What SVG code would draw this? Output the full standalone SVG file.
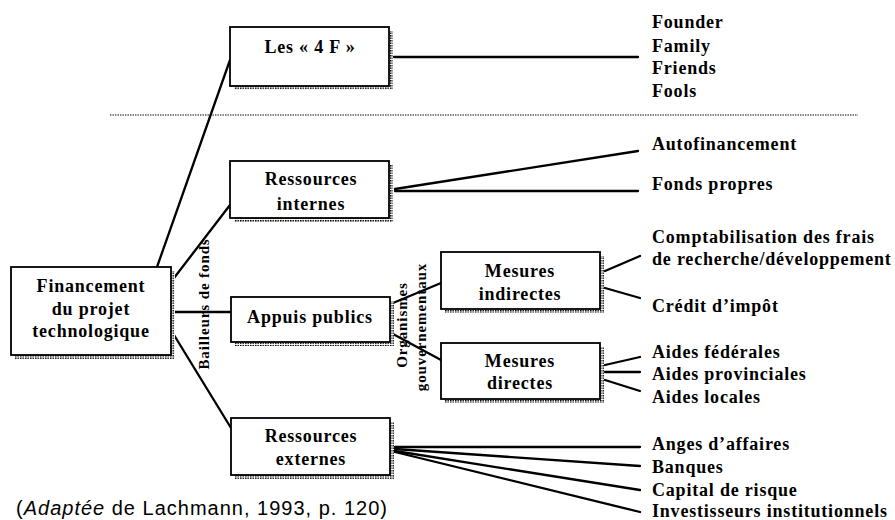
<svg xmlns="http://www.w3.org/2000/svg" width="895" height="520" viewBox="0 0 895 520">
  <defs>
    <!-- stippled drop shadow used behind every box -->
    <pattern id="stipple" width="2.5" height="2.5" patternUnits="userSpaceOnUse">
      <rect width="2.5" height="2.5" fill="#fff"/>
      <rect width="1.5" height="1.5" fill="#000"/>
    </pattern>
  </defs>
  <style>
    .box { fill: #fff; stroke: #000; stroke-width: 1.8; }
    .shadow { fill: url(#stipple); }
    .lbl { font-family: "Liberation Serif", "Times New Roman", serif; font-weight: bold; font-size: 18px; letter-spacing: 0.8px; fill: #000; }
    .mid { text-anchor: middle; }
    .vert { font-family: "Liberation Serif", "Times New Roman", serif; font-weight: bold; font-size: 15px; letter-spacing: 0.9px; fill: #000; text-anchor: middle; }
    .link { stroke: #000; stroke-width: 2.3; fill: none; stroke-linecap: round; }
    .sep { stroke: #000; stroke-width: 1.2; stroke-dasharray: 1.4 1.1; fill: none; }
    .cap { font-family: "Liberation Sans", Arial, sans-serif; font-size: 20px; letter-spacing: 1px; fill: #000; }
  </style>

  <rect width="895" height="520" fill="#fff"/>

  <!-- separator between the "4 F" and the other funding sources -->
  <line class="sep" x1="110" y1="115" x2="858" y2="115"/>

  <!-- connectors -->
  <g id="connectors">
    <line class="link" x1="157" y1="267" x2="230" y2="60"/>
    <line class="link" x1="174" y1="278" x2="230" y2="205"/>
    <line class="link" x1="174" y1="312" x2="231" y2="312"/>
    <line class="link" x1="174" y1="335" x2="231" y2="428"/>

    <line class="link" x1="394" y1="57" x2="638" y2="57"/>

    <line class="link" x1="395" y1="189" x2="638" y2="151"/>
    <line class="link" x1="395" y1="191" x2="638" y2="191"/>

    <line class="link" x1="393" y1="303" x2="441" y2="283"/>
    <line class="link" x1="393" y1="334" x2="441" y2="360"/>

    <line class="link" x1="605" y1="271" x2="640" y2="256"/>
    <line class="link" x1="605" y1="288" x2="640" y2="298"/>

    <line class="link" x1="605" y1="365" x2="640" y2="357"/>
    <line class="link" x1="605" y1="372" x2="640" y2="372"/>
    <line class="link" x1="605" y1="380" x2="640" y2="391"/>

    <line class="link" x1="395" y1="447" x2="640" y2="447"/>
    <line class="link" x1="395" y1="449" x2="640" y2="466"/>
    <line class="link" x1="395" y1="451" x2="640" y2="490"/>
    <line class="link" x1="395" y1="452" x2="640" y2="512"/>
  </g>

  <!-- nodes -->
  <g id="financement">
    <rect class="shadow" x="15" y="271" width="160" height="88"/>
    <rect class="box" x="11" y="267" width="160" height="88"/>
    <text class="lbl mid" x="91" y="292">Financement</text>
    <text class="lbl mid" x="91" y="315">du projet</text>
    <text class="lbl mid" x="91" y="337">technologique</text>
  </g>

  <g id="quatre-f">
    <rect class="shadow" x="234" y="31" width="159" height="59"/>
    <rect class="box" x="230" y="27" width="159" height="59"/>
    <text class="lbl mid" x="310" y="53">Les « 4 F »</text>
  </g>

  <g id="ressources-internes">
    <rect class="shadow" x="234" y="165" width="159" height="57"/>
    <rect class="box" x="230" y="161" width="159" height="57"/>
    <text class="lbl mid" x="311" y="185">Ressources</text>
    <text class="lbl mid" x="311" y="210">internes</text>
  </g>

  <g id="appuis-publics">
    <rect class="shadow" x="235" y="301" width="159" height="45"/>
    <rect class="box" x="231" y="297" width="159" height="45"/>
    <text class="lbl mid" x="310" y="323">Appuis publics</text>
  </g>

  <g id="ressources-externes">
    <rect class="shadow" x="235" y="422" width="159" height="57"/>
    <rect class="box" x="231" y="418" width="159" height="57"/>
    <text class="lbl mid" x="311" y="442">Ressources</text>
    <text class="lbl mid" x="311" y="465">externes</text>
  </g>

  <g id="mesures-indirectes">
    <rect class="shadow" x="445" y="256" width="159" height="57"/>
    <rect class="box" x="441" y="252" width="159" height="57"/>
    <text class="lbl mid" x="520" y="277">Mesures</text>
    <text class="lbl mid" x="520" y="300">indirectes</text>
  </g>

  <g id="mesures-directes">
    <rect class="shadow" x="445" y="347" width="159" height="56"/>
    <rect class="box" x="441" y="343" width="159" height="56"/>
    <text class="lbl mid" x="520" y="367">Mesures</text>
    <text class="lbl mid" x="520" y="389">directes</text>
  </g>

  <!-- rotated edge labels -->
  <g id="bailleurs">
    <text class="vert" transform="translate(209,304) rotate(-90)">Bailleurs de fonds</text>
  </g>
  <g id="organismes">
    <text class="vert" transform="translate(407,325) rotate(-90)">Organismes</text>
    <text class="vert" transform="translate(426,327) rotate(-90)">gouvernementaux</text>
  </g>

  <!-- leaf labels -->
  <g id="leaves-4f">
    <text class="lbl" x="652" y="28">Founder</text>
    <text class="lbl" x="652" y="51.5">Family</text>
    <text class="lbl" x="652" y="74">Friends</text>
    <text class="lbl" x="652" y="97">Fools</text>
  </g>
  <g id="leaves-internes">
    <text class="lbl" x="652" y="150">Autofinancement</text>
    <text class="lbl" x="652" y="190">Fonds propres</text>
  </g>
  <g id="leaves-indirectes">
    <text class="lbl" x="652" y="243">Comptabilisation des frais</text>
    <text class="lbl" x="652" y="265">de recherche/développement</text>
    <text class="lbl" x="652" y="312">Crédit d’impôt</text>
  </g>
  <g id="leaves-directes">
    <text class="lbl" x="652" y="358">Aides fédérales</text>
    <text class="lbl" x="652" y="380">Aides provinciales</text>
    <text class="lbl" x="652" y="403">Aides locales</text>
  </g>
  <g id="leaves-externes">
    <text class="lbl" x="652" y="450">Anges d’affaires</text>
    <text class="lbl" x="652" y="473">Banques</text>
    <text class="lbl" x="652" y="496">Capital de risque</text>
    <text class="lbl" x="652" y="517">Investisseurs institutionnels</text>
  </g>

  <!-- source note -->
  <text class="cap" x="16" y="515">(<tspan font-style="italic">Adaptée</tspan> de Lachmann, 1993, p. 120)</text>
</svg>
